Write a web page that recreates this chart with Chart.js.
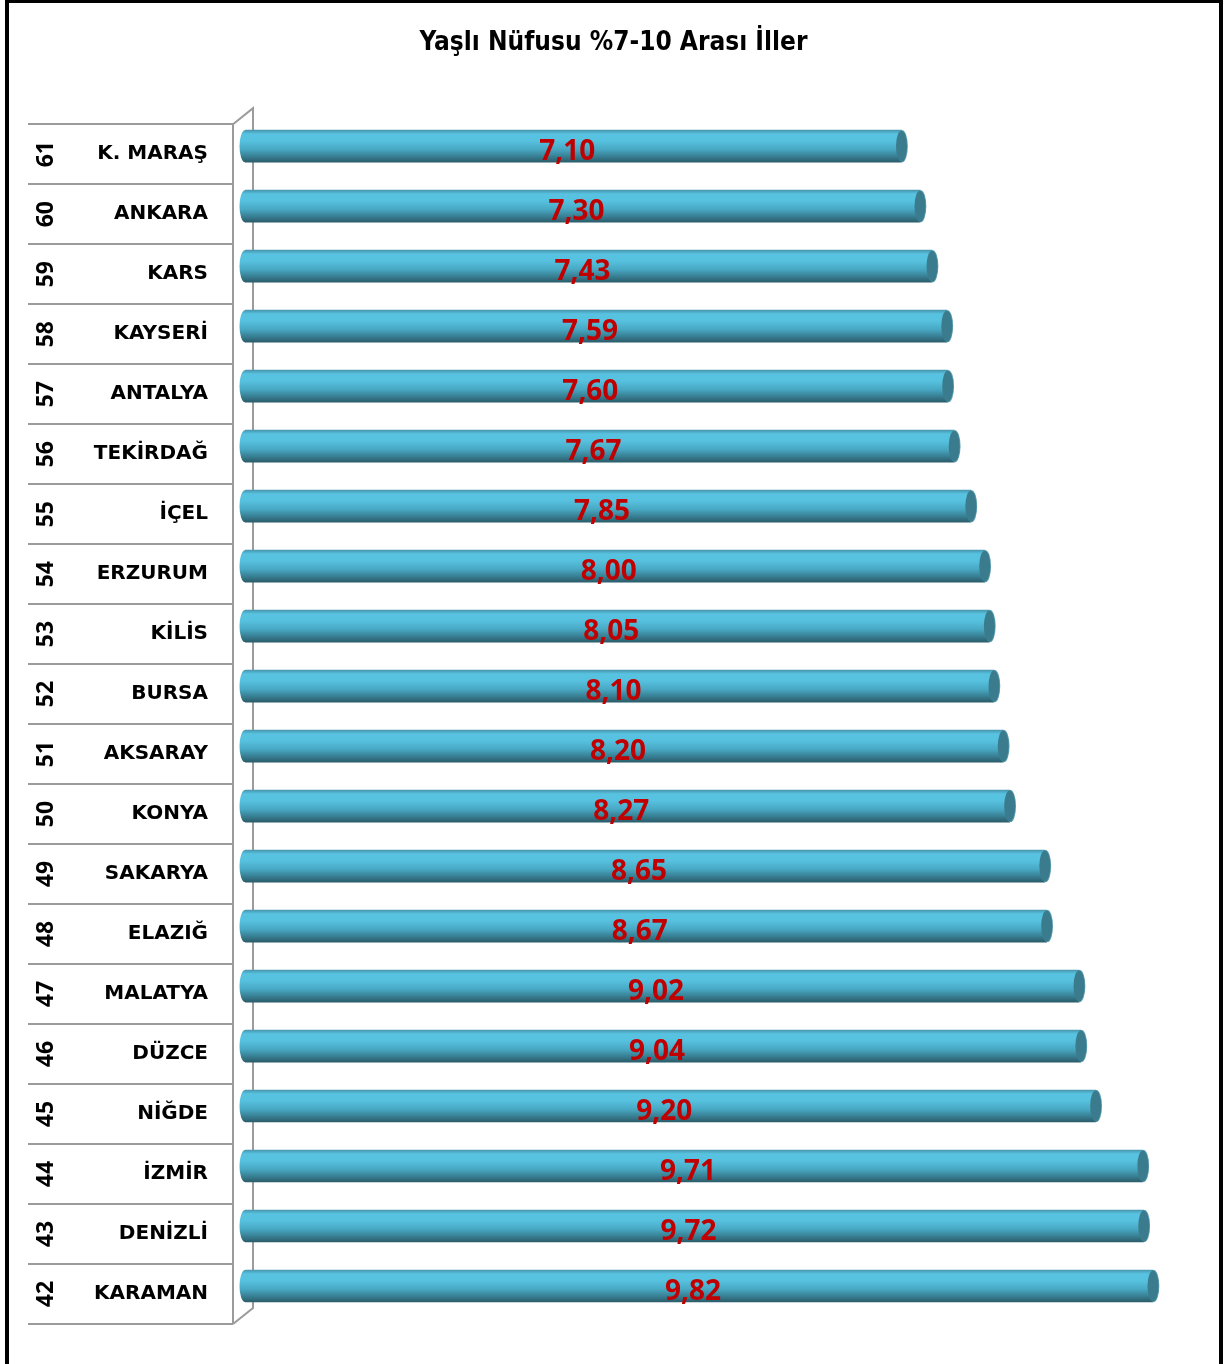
<!DOCTYPE html>
<html>
<head>
<meta charset="utf-8">
<script src="https://cdn.jsdelivr.net/npm/chart.js@4.4.1/dist/chart.umd.min.js"></script>
<style>
    html, body { margin: 0; padding: 0; background: #fff; overflow: hidden; }
    #wrap { position: absolute; left: 0; top: 0; width: 1227px; height: 1364px; }
    #frame { position: absolute; left: 5px; top: -1px; width: 1218px; height: 1400px; border: 4px solid #000; box-sizing: border-box; pointer-events: none; }
</style>
</head>
<body>
<div id="wrap"><canvas id="chart" width="1227" height="1364"></canvas></div>
<div id="frame"></div>
<script>
const chartTitle = 'Yaşlı Nüfusu %7-10 Arası İller';
const names = ['K. MARAŞ', 'ANKARA', 'KARS', 'KAYSERİ', 'ANTALYA', 'TEKİRDAĞ', 'İÇEL', 'ERZURUM', 'KİLİS', 'BURSA',
    'AKSARAY', 'KONYA', 'SAKARYA', 'ELAZIĞ', 'MALATYA', 'DÜZCE', 'NİĞDE', 'İZMİR', 'DENİZLİ', 'KARAMAN'];
const ranks = [61, 60, 59, 58, 57, 56, 55, 54, 53, 52, 51, 50, 49, 48, 47, 46, 45, 44, 43, 42];
const values = [7.10, 7.30, 7.43, 7.59, 7.60, 7.67, 7.85, 8.00, 8.05, 8.10,
    8.20, 8.27, 8.65, 8.67, 9.02, 9.04, 9.20, 9.71, 9.72, 9.82];
const xMin = 0;
const xMax = 10.62;

const BAR_H = 32;
const LIFT = 8;      // bars sit a bit higher than the row centre (3D look)
const CAP_RX = 5.5;

function barGradient(ctx, yc) {
    const g = ctx.createLinearGradient(0, yc - BAR_H / 2, 0, yc + BAR_H / 2);
    g.addColorStop(0, '#4797ae');
    g.addColorStop(0.12, '#58c3e1');
    g.addColorStop(0.32, '#57c2e0');
    g.addColorStop(0.6, '#48a8c3');
    g.addColorStop(0.82, '#387f93');
    g.addColorStop(1, '#2b5d6b');
    return g;
}

const cylinderPlugin = {
    id: 'cylinder',
    beforeDatasetsDraw(chart) {
        const { ctx, chartArea, scales: { y } } = chart;
        const rowH = y.height / names.length;
        const front = chartArea.left - 12;
        const back = chartArea.left + 8;
        const depth = 16;

        // left table + 3D wall
        ctx.save();
        ctx.strokeStyle = '#9b9b9b';
        ctx.lineWidth = 2;
        ctx.beginPath();
        for (let i = 0; i <= names.length; i++) {
            const yy = Math.round(chartArea.top + i * rowH);
            ctx.moveTo(28, yy);
            ctx.lineTo(front, yy);
        }
        ctx.moveTo(front, chartArea.top);
        ctx.lineTo(front, chartArea.bottom);
        ctx.moveTo(front, chartArea.top);
        ctx.lineTo(back, chartArea.top - depth);
        ctx.lineTo(back, chartArea.bottom - depth);
        ctx.lineTo(front, chartArea.bottom);
        ctx.stroke();

        // rank numbers, rotated
        ctx.fillStyle = '#000';
        ctx.font = 'bold 23px "Open Sans"';
        ctx.textAlign = 'center';
        ctx.textBaseline = 'middle';
        ranks.forEach((r, i) => {
            ctx.save();
            ctx.translate(46, y.getPixelForValue(i));
            ctx.rotate(-Math.PI / 2);
            ctx.fillText(String(r), 0, 0);
            ctx.restore();
        });
        ctx.restore();

        // back ends of the cylinders
        const meta = chart.getDatasetMeta(0);
        ctx.save();
        ctx.translate(0, -LIFT);
        meta.data.forEach(bar => {
            ctx.fillStyle = barGradient(ctx, bar.y);
            ctx.beginPath();
            ctx.ellipse(bar.base, bar.y, CAP_RX, BAR_H / 2, 0, 0, Math.PI * 2);
            ctx.fill();
        });
        ctx.restore();
    },
    beforeDatasetDraw(chart) {
        chart.ctx.save();
        chart.ctx.translate(0, -LIFT);
    },
    afterDatasetDraw(chart) {
        chart.ctx.restore();
    },
    afterDatasetsDraw(chart) {
        const { ctx } = chart;
        const meta = chart.getDatasetMeta(0);
        // front caps
        ctx.save();
        ctx.translate(0, -LIFT);
        meta.data.forEach(bar => {
            ctx.fillStyle = '#5a9fb0';
            ctx.beginPath();
            ctx.ellipse(bar.x + 0.8, bar.y, CAP_RX, BAR_H / 2, 0, 0, Math.PI * 2);
            ctx.fill();
            ctx.fillStyle = '#3a7c8e';
            ctx.beginPath();
            ctx.ellipse(bar.x, bar.y, CAP_RX, BAR_H / 2 - 0.5, 0, 0, Math.PI * 2);
            ctx.fill();
        });
        ctx.restore();

        // value labels
        ctx.save();
        ctx.fillStyle = '#c00000';
        ctx.font = 'bold 28px "Open Sans"';
        ctx.textAlign = 'center';
        ctx.textBaseline = 'alphabetic';
        meta.data.forEach((bar, i) => {
            const txt = values[i].toFixed(2).replace('.', ',');
            ctx.fillText(txt, (bar.base + bar.x) / 2 - 6, bar.y + 6);
        });
        ctx.restore();
    }
};

new Chart(document.getElementById('chart'), {
    type: 'bar',
    data: {
        labels: names,
        datasets: [{
            data: values,
            barThickness: BAR_H,
            borderWidth: 0,
            backgroundColor(c) {
                const chart = c.chart;
                if (!chart.chartArea) return '#4fb8d6';
                return barGradient(chart.ctx, chart.scales.y.getPixelForValue(c.dataIndex));
            }
        }]
    },
    options: {
        indexAxis: 'y',
        responsive: false,
        devicePixelRatio: 1,
        animation: false,
        layout: { padding: { left: 0, right: 0, top: 0, bottom: 40 } },
        scales: {
            x: { display: false, min: xMin, max: xMax },
            y: {
                afterFit(scale) { scale.width = 245; },
                grid: { display: false, drawTicks: true, tickLength: 37 },
                border: { display: false },
                ticks: {
                    autoSkip: false,
                    padding: 0,
                    color: '#000',
                    font: { family: 'DejaVu Sans', weight: 'bold', size: 20 }
                }
            }
        },
        plugins: {
            legend: { display: false },
            tooltip: { enabled: false },
            title: {
                display: true,
                text: chartTitle,
                color: '#000',
                font: { family: '"DejaVu Sans Condensed", sans-serif', weight: 'bold', size: 26, lineHeight: 1.2 },
                padding: { top: 28, bottom: 65 }
            }
        }
    },
    plugins: [cylinderPlugin]
});
</script>
</body>
</html>
